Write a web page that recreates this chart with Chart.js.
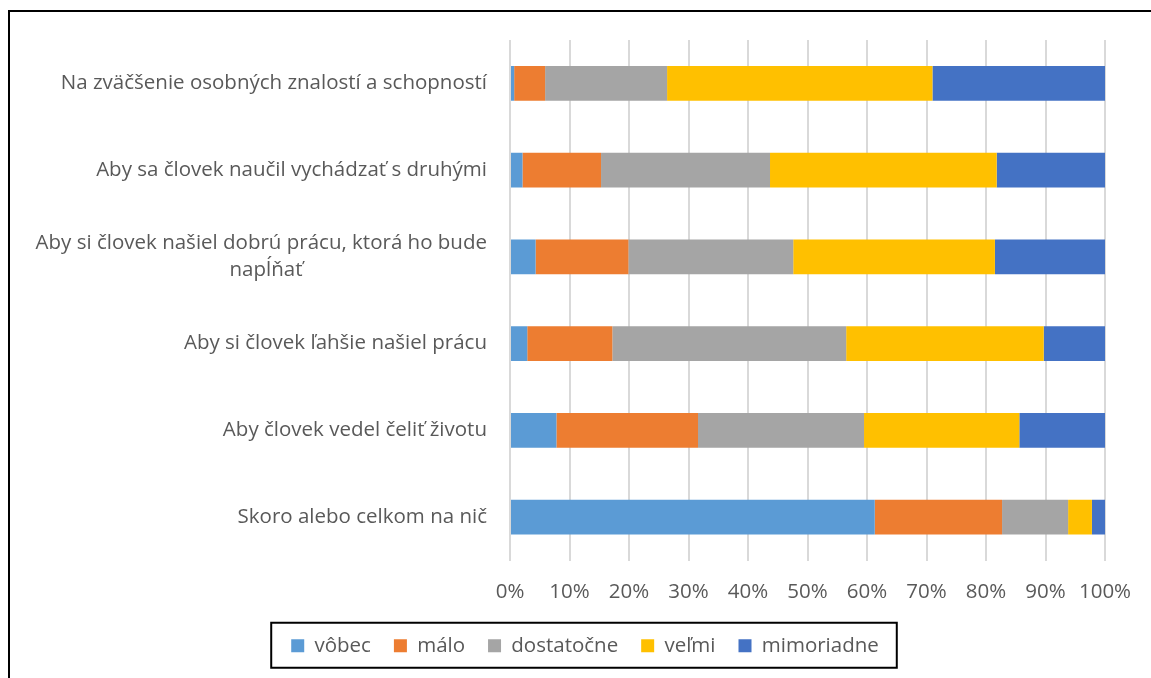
<!DOCTYPE html>
<html lang="sk">
<head>
  <meta charset="UTF-8">
  <title>Stacked 100% bar</title>
  <script src="https://cdn.jsdelivr.net/npm/chart.js"></script>
  <style>
    html, body { margin: 0; padding: 0; background: #fff; overflow: hidden; }
    .frame {
      position: absolute; left: 8px; top: 10px; width: 1200px; height: 700px;
      border-left: 2px solid #000; border-top: 2px solid #000;
    }
    .wrap { position: absolute; left: 0; top: 0; width: 1151px; height: 678px; }
  </style>
</head>
<body>
  <div class="frame"></div>
  <div class="wrap"><canvas id="chart"></canvas></div>

  <script>
    // categories, top to bottom
    const categories = [
      'Na zväčšenie osobných znalostí a schopností',
      'Aby sa človek naučil vychádzať s druhými',
      ['Aby si človek našiel dobrú prácu, ktorá ho bude', 'napĺňať'],
      'Aby si človek ľahšie našiel prácu',
      'Aby človek vedel čeliť životu',
      'Skoro alebo celkom na nič'
    ];

    // percent of answers per category
    const vobec      = [0.7, 2.1, 4.3, 2.9, 7.8, 61.3];
    const malo       = [5.2, 13.2, 15.6, 14.3, 23.8, 21.4];
    const dostatocne = [20.5, 28.4, 27.7, 39.3, 27.9, 11.1];
    const velmi      = [44.6, 38.1, 33.9, 33.2, 26.1, 4.0];
    const mimoriadne = [29.0, 18.2, 18.5, 10.3, 14.4, 2.2];

    const xTicks = [0, 10, 20, 30, 40, 50, 60, 70, 80, 90, 100];

    const FONT = 'Open Sans';
    const SIZE = 20.5;
    const textColor = '#595959';

    // centre the second line of a wrapped label under the first one
    // (ticks are right aligned, so pad it on the right with blank space)
    function centreLines(ctx, label) {
      const full = ctx.measureText(label[0]).width;
      const target = (full + ctx.measureText(label[1]).width) / 2;
      let line = label[1];
      while (ctx.measureText(line + '\u2003').width <= target) line += '\u2003';
      while (ctx.measureText(line + '\u00a0').width <= target) line += '\u00a0';
      return [label[0], line];
    }

    const legendBox = {
      id: 'legendBox',
      afterDraw(chart) {
        const boxes = chart.legend.legendHitBoxes;
        if (!boxes || !boxes.length) return;
        const left = Math.min(...boxes.map(b => b.left)) - 20;
        const right = Math.max(...boxes.map(b => b.left + b.width)) + 18;
        const mid = boxes[0].top + boxes[0].height / 2;
        const ctx = chart.ctx;
        ctx.save();
        ctx.strokeStyle = '#000';
        ctx.lineWidth = 2;
        ctx.strokeRect(left, mid - 23, right - left, 45);
        ctx.restore();
      }
    };

    document.fonts.load(SIZE + 'px "' + FONT + '"').then(() => {
      const ctx = document.getElementById('chart').getContext('2d');
      new Chart(ctx, {
        type: 'bar',
        data: {
          labels: categories,
          datasets: [
            { label: 'vôbec', data: vobec, backgroundColor: '#5B9BD5' },
            { label: 'málo', data: malo, backgroundColor: '#ED7D31' },
            { label: 'dostatočne', data: dostatocne, backgroundColor: '#A5A5A5' },
            { label: 'veľmi', data: velmi, backgroundColor: '#FFC000' },
            { label: 'mimoriadne', data: mimoriadne, backgroundColor: '#4472C4' }
          ]
        },
        options: {
          indexAxis: 'y',
          responsive: true,
          maintainAspectRatio: false,
          animation: false,
          datasets: { bar: { barPercentage: 0.4, categoryPercentage: 1, borderWidth: 0 } },
          layout: { padding: { top: 40, right: 0, left: 19, bottom: 12 } },
          scales: {
            x: {
              stacked: true,
              min: 0,
              max: 100,
              afterBuildTicks: scale => { scale.ticks = xTicks.map(v => ({ value: v })); },
              afterFit: scale => { scale.height = 52; },
              border: { display: false },
              grid: { color: '#d9d9d9', lineWidth: 2, drawTicks: false },
              ticks: {
                padding: 19,
                color: textColor,
                font: { family: FONT, size: SIZE },
                callback: v => v + '%'
              }
            },
            y: {
              stacked: true,
              afterTickToLabelConversion: scale => {
                const c = scale.ctx;
                c.save();
                c.font = Chart.helpers.toFont(scale.options.ticks.font).string;
                scale.ticks.forEach(t => {
                  if (Array.isArray(t.label)) t.label = centreLines(c, t.label);
                });
                c.restore();
              },
              afterFit: scale => { scale.width = 491; },
              border: { display: false },
              grid: { display: false, drawTicks: false },
              ticks: {
                padding: 23,
                color: textColor,
                font: { family: FONT, size: SIZE, lineHeight: 1.3 }
              }
            },
            // empty strip on the right, keeps the legend centred on the page
            gap: {
              axis: 'y',
              type: 'linear',
              position: 'right',
              afterFit: scale => { scale.width = 46; },
              border: { display: false },
              grid: { display: false, drawTicks: false },
              ticks: { display: false }
            }
          },
          plugins: {
            tooltip: { enabled: false },
            legend: {
              position: 'bottom',
              labels: {
                boxWidth: 13,
                boxHeight: 13,
                padding: 23,
                color: textColor,
                font: { family: FONT, size: SIZE }
              }
            }
          }
        },
        plugins: [legendBox]
      });
    });
  </script>
</body>
</html>
